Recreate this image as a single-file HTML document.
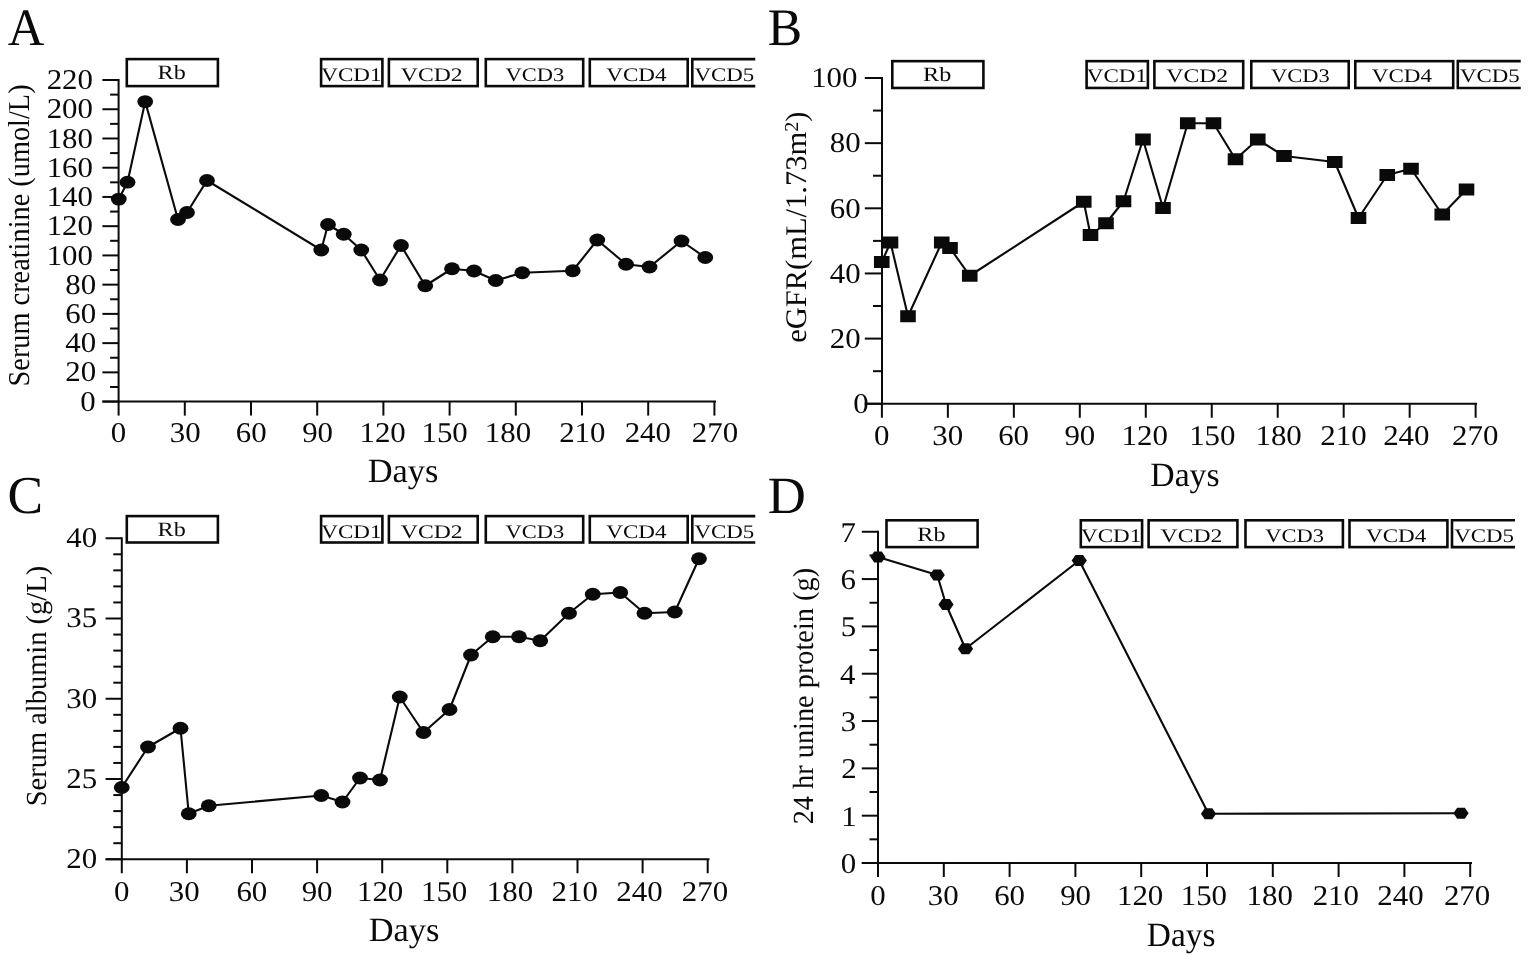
<!DOCTYPE html>
<html lang="en">
<head>
<meta charset="utf-8">
<title>Figure: renal function over time</title>
<style>
html,body{margin:0;padding:0;background:#fff;}
body{width:1535px;height:962px;overflow:hidden;}
svg{display:block;}
svg text{font-family:"Liberation Serif","DejaVu Serif",serif;fill:#0a0a0a;text-rendering:geometricPrecision;}
svg .s{stroke:#0a0a0a;fill:none;}
svg .m{fill:#0a0a0a;stroke:none;}
</style>
</head>
<body>
<svg width="1535" height="962" viewBox="0 0 1535 962">
<rect x="0" y="0" width="1535" height="962" fill="#ffffff"/>
<g id="panelA">
<text transform="translate(7.8 44.5) scale(0.96 1)" font-size="52.73">A</text>
<line class="s" x1="118.6" y1="79" x2="118.6" y2="402.6" stroke-width="2"/>
<line class="s" x1="102.4" y1="401.6" x2="118.6" y2="401.6" stroke-width="2"/>
<line class="s" x1="102.4" y1="372.36" x2="118.6" y2="372.36" stroke-width="2"/>
<line class="s" x1="102.4" y1="343.13" x2="118.6" y2="343.13" stroke-width="2"/>
<line class="s" x1="102.4" y1="313.89" x2="118.6" y2="313.89" stroke-width="2"/>
<line class="s" x1="102.4" y1="284.66" x2="118.6" y2="284.66" stroke-width="2"/>
<line class="s" x1="102.4" y1="255.42" x2="118.6" y2="255.42" stroke-width="2"/>
<line class="s" x1="102.4" y1="226.18" x2="118.6" y2="226.18" stroke-width="2"/>
<line class="s" x1="102.4" y1="196.95" x2="118.6" y2="196.95" stroke-width="2"/>
<line class="s" x1="102.4" y1="167.71" x2="118.6" y2="167.71" stroke-width="2"/>
<line class="s" x1="102.4" y1="138.48" x2="118.6" y2="138.48" stroke-width="2"/>
<line class="s" x1="102.4" y1="109.24" x2="118.6" y2="109.24" stroke-width="2"/>
<line class="s" x1="102.4" y1="80" x2="118.6" y2="80" stroke-width="2"/>
<line class="s" x1="110.1" y1="386.98" x2="118.6" y2="386.98" stroke-width="2"/>
<line class="s" x1="110.1" y1="357.75" x2="118.6" y2="357.75" stroke-width="2"/>
<line class="s" x1="110.1" y1="328.51" x2="118.6" y2="328.51" stroke-width="2"/>
<line class="s" x1="110.1" y1="299.27" x2="118.6" y2="299.27" stroke-width="2"/>
<line class="s" x1="110.1" y1="270.04" x2="118.6" y2="270.04" stroke-width="2"/>
<line class="s" x1="110.1" y1="240.8" x2="118.6" y2="240.8" stroke-width="2"/>
<line class="s" x1="110.1" y1="211.57" x2="118.6" y2="211.57" stroke-width="2"/>
<line class="s" x1="110.1" y1="182.33" x2="118.6" y2="182.33" stroke-width="2"/>
<line class="s" x1="110.1" y1="153.09" x2="118.6" y2="153.09" stroke-width="2"/>
<line class="s" x1="110.1" y1="123.86" x2="118.6" y2="123.86" stroke-width="2"/>
<line class="s" x1="110.1" y1="94.62" x2="118.6" y2="94.62" stroke-width="2"/>
<line class="s" x1="102.4" y1="401.6" x2="716" y2="401.6" stroke-width="2"/>
<line class="s" x1="118.6" y1="401.6" x2="118.6" y2="415.6" stroke-width="2"/>
<line class="s" x1="184.8" y1="401.6" x2="184.8" y2="415.6" stroke-width="2"/>
<line class="s" x1="251" y1="401.6" x2="251" y2="415.6" stroke-width="2"/>
<line class="s" x1="317.2" y1="401.6" x2="317.2" y2="415.6" stroke-width="2"/>
<line class="s" x1="383.4" y1="401.6" x2="383.4" y2="415.6" stroke-width="2"/>
<line class="s" x1="449.6" y1="401.6" x2="449.6" y2="415.6" stroke-width="2"/>
<line class="s" x1="515.8" y1="401.6" x2="515.8" y2="415.6" stroke-width="2"/>
<line class="s" x1="582" y1="401.6" x2="582" y2="415.6" stroke-width="2"/>
<line class="s" x1="648.2" y1="401.6" x2="648.2" y2="415.6" stroke-width="2"/>
<line class="s" x1="714.4" y1="401.6" x2="714.4" y2="415.6" stroke-width="2"/>
<text transform="translate(80.14 410.7) scale(1.08 1)" font-size="28.6">0</text>
<text transform="translate(65.24 381.46) scale(1.08 1)" font-size="28.6">20</text>
<text transform="translate(65.24 352.23) scale(1.08 1)" font-size="28.6">40</text>
<text transform="translate(65.24 322.99) scale(1.08 1)" font-size="28.6">60</text>
<text transform="translate(65.24 293.76) scale(1.08 1)" font-size="28.6">80</text>
<text transform="translate(46.64 264.52) scale(1.08 1)" font-size="28.6">100</text>
<text transform="translate(46.64 235.28) scale(1.08 1)" font-size="28.6">120</text>
<text transform="translate(46.64 206.05) scale(1.08 1)" font-size="28.6">140</text>
<text transform="translate(46.64 176.81) scale(1.08 1)" font-size="28.6">160</text>
<text transform="translate(46.64 147.58) scale(1.08 1)" font-size="28.6">180</text>
<text transform="translate(46.64 118.34) scale(1.08 1)" font-size="28.6">200</text>
<text transform="translate(46.64 89.1) scale(1.08 1)" font-size="28.6">220</text>
<text transform="translate(110.75 442) scale(1.08 1)" font-size="28.6">0</text>
<text transform="translate(169.84 442) scale(1.08 1)" font-size="28.6">30</text>
<text transform="translate(235.72 442) scale(1.08 1)" font-size="28.6">60</text>
<text transform="translate(302.15 442) scale(1.08 1)" font-size="28.6">90</text>
<text transform="translate(359.47 442) scale(1.08 1)" font-size="28.6">120</text>
<text transform="translate(421.47 442) scale(1.08 1)" font-size="28.6">150</text>
<text transform="translate(484.87 442) scale(1.08 1)" font-size="28.6">180</text>
<text transform="translate(559.17 442) scale(1.08 1)" font-size="28.6">210</text>
<text transform="translate(624.67 442) scale(1.08 1)" font-size="28.6">240</text>
<text transform="translate(691.77 442) scale(1.08 1)" font-size="28.6">270</text>
<g class="ytitle">
<text transform="translate(29 386.44) rotate(-90) scale(0.9349 1)" font-size="30.3">Serum creatinine (umol/L)</text>
</g>
<polyline class="s" stroke-width="2.1" stroke-linejoin="round" points="118.75,199.1 127.5,182.2 145.2,101.6 178,219.5 187,212.5 207,180.5 321.25,250 328,224.5 343.75,234.25 361.25,250 380,280 401,245.5 425.25,285.75 452,268.75 474,271 495.75,280.5 522.25,272.75 572.75,270.75 597.25,240 626,264.25 649.5,267 681.5,241 705.25,257.5"/>
<ellipse cx="118.75" cy="199.1" rx="7.9" ry="6.4" class="m"/>
<ellipse cx="127.5" cy="182.2" rx="7.9" ry="6.4" class="m"/>
<ellipse cx="145.2" cy="101.6" rx="7.9" ry="6.4" class="m"/>
<ellipse cx="178" cy="219.5" rx="7.9" ry="6.4" class="m"/>
<ellipse cx="187" cy="212.5" rx="7.9" ry="6.4" class="m"/>
<ellipse cx="207" cy="180.5" rx="7.9" ry="6.4" class="m"/>
<ellipse cx="321.25" cy="250" rx="7.9" ry="6.4" class="m"/>
<ellipse cx="328" cy="224.5" rx="7.9" ry="6.4" class="m"/>
<ellipse cx="343.75" cy="234.25" rx="7.9" ry="6.4" class="m"/>
<ellipse cx="361.25" cy="250" rx="7.9" ry="6.4" class="m"/>
<ellipse cx="380" cy="280" rx="7.9" ry="6.4" class="m"/>
<ellipse cx="401" cy="245.5" rx="7.9" ry="6.4" class="m"/>
<ellipse cx="425.25" cy="285.75" rx="7.9" ry="6.4" class="m"/>
<ellipse cx="452" cy="268.75" rx="7.9" ry="6.4" class="m"/>
<ellipse cx="474" cy="271" rx="7.9" ry="6.4" class="m"/>
<ellipse cx="495.75" cy="280.5" rx="7.9" ry="6.4" class="m"/>
<ellipse cx="522.25" cy="272.75" rx="7.9" ry="6.4" class="m"/>
<ellipse cx="572.75" cy="270.75" rx="7.9" ry="6.4" class="m"/>
<ellipse cx="597.25" cy="240" rx="7.9" ry="6.4" class="m"/>
<ellipse cx="626" cy="264.25" rx="7.9" ry="6.4" class="m"/>
<ellipse cx="649.5" cy="267" rx="7.9" ry="6.4" class="m"/>
<ellipse cx="681.5" cy="241" rx="7.9" ry="6.4" class="m"/>
<ellipse cx="705.25" cy="257.5" rx="7.9" ry="6.4" class="m"/>
<rect class="s" x="126.8" y="59.1" width="91.1" height="27" stroke-width="2.6"/>
<text transform="translate(157.58 79.3) scale(1.19 1)" font-size="20.3">Rb</text>
<rect class="s" x="321.1" y="59.1" width="61.3" height="27" stroke-width="2.6"/>
<text transform="translate(321.27 81.2) scale(1.2 1)" font-size="19.24">VCD1</text>
<rect class="s" x="388.9" y="59.1" width="88.8" height="27" stroke-width="2.6"/>
<text transform="translate(400.86 81.2) scale(1.23 1)" font-size="19.24">VCD2</text>
<rect class="s" x="485.8" y="59.1" width="97.4" height="27" stroke-width="2.6"/>
<text transform="translate(505.52 81.2) scale(1.17 1)" font-size="19.24">VCD3</text>
<rect class="s" x="589.8" y="59.1" width="97.9" height="27" stroke-width="2.6"/>
<text transform="translate(606.27 81.2) scale(1.2 1)" font-size="19.24">VCD4</text>
<path class="s" d="M755.25 59.1H692.3V86.1H755.25" stroke-width="2.6"/>
<text transform="translate(694.52 81.2) scale(1.19 1)" font-size="19.24">VCD5</text>
<text transform="translate(367.77 482.2) scale(1.01 1)" font-size="34.05">Days</text>
</g>
<g id="panelB">
<text transform="translate(767.75 44.5) scale(0.98 1)" font-size="52.67">B</text>
<line class="s" x1="882" y1="77" x2="882" y2="404.75" stroke-width="2"/>
<line class="s" x1="864.8" y1="403.75" x2="882" y2="403.75" stroke-width="2"/>
<line class="s" x1="864.8" y1="338.6" x2="882" y2="338.6" stroke-width="2"/>
<line class="s" x1="864.8" y1="273.45" x2="882" y2="273.45" stroke-width="2"/>
<line class="s" x1="864.8" y1="208.3" x2="882" y2="208.3" stroke-width="2"/>
<line class="s" x1="864.8" y1="143.15" x2="882" y2="143.15" stroke-width="2"/>
<line class="s" x1="864.8" y1="78" x2="882" y2="78" stroke-width="2"/>
<line class="s" x1="873" y1="371.18" x2="882" y2="371.18" stroke-width="2"/>
<line class="s" x1="873" y1="306.02" x2="882" y2="306.02" stroke-width="2"/>
<line class="s" x1="873" y1="240.88" x2="882" y2="240.88" stroke-width="2"/>
<line class="s" x1="873" y1="175.72" x2="882" y2="175.72" stroke-width="2"/>
<line class="s" x1="873" y1="110.57" x2="882" y2="110.57" stroke-width="2"/>
<line class="s" x1="864.8" y1="403.75" x2="1477" y2="403.75" stroke-width="2"/>
<line class="s" x1="881.9" y1="403.75" x2="881.9" y2="417.75" stroke-width="2"/>
<line class="s" x1="947.87" y1="403.75" x2="947.87" y2="417.75" stroke-width="2"/>
<line class="s" x1="1013.84" y1="403.75" x2="1013.84" y2="417.75" stroke-width="2"/>
<line class="s" x1="1079.81" y1="403.75" x2="1079.81" y2="417.75" stroke-width="2"/>
<line class="s" x1="1145.78" y1="403.75" x2="1145.78" y2="417.75" stroke-width="2"/>
<line class="s" x1="1211.75" y1="403.75" x2="1211.75" y2="417.75" stroke-width="2"/>
<line class="s" x1="1277.72" y1="403.75" x2="1277.72" y2="417.75" stroke-width="2"/>
<line class="s" x1="1343.69" y1="403.75" x2="1343.69" y2="417.75" stroke-width="2"/>
<line class="s" x1="1409.66" y1="403.75" x2="1409.66" y2="417.75" stroke-width="2"/>
<line class="s" x1="1475.63" y1="403.75" x2="1475.63" y2="417.75" stroke-width="2"/>
<text transform="translate(853.34 413.05) scale(1.08 1)" font-size="28.6">0</text>
<text transform="translate(829.74 347.9) scale(1.08 1)" font-size="28.6">20</text>
<text transform="translate(829.74 282.75) scale(1.08 1)" font-size="28.6">40</text>
<text transform="translate(829.74 217.6) scale(1.08 1)" font-size="28.6">60</text>
<text transform="translate(829.74 152.45) scale(1.08 1)" font-size="28.6">80</text>
<text transform="translate(811.14 87.3) scale(1.08 1)" font-size="28.6">100</text>
<text transform="translate(874 444.6) scale(1.08 1)" font-size="28.6">0</text>
<text transform="translate(932.34 444.6) scale(1.08 1)" font-size="28.6">30</text>
<text transform="translate(998.17 444.6) scale(1.08 1)" font-size="28.6">60</text>
<text transform="translate(1064.4 444.6) scale(1.08 1)" font-size="28.6">90</text>
<text transform="translate(1121.57 444.6) scale(1.08 1)" font-size="28.6">120</text>
<text transform="translate(1189.17 444.6) scale(1.08 1)" font-size="28.6">150</text>
<text transform="translate(1255.47 444.6) scale(1.08 1)" font-size="28.6">180</text>
<text transform="translate(1320.27 444.6) scale(1.08 1)" font-size="28.6">210</text>
<text transform="translate(1383.17 444.6) scale(1.08 1)" font-size="28.6">240</text>
<text transform="translate(1452.07 444.6) scale(1.08 1)" font-size="28.6">270</text>
<polyline class="s" stroke-width="2.1" stroke-linejoin="round" points="881.75,262 890.5,242.5 908,316.25 941.75,242.5 950,248 969.75,275.75 1083.75,201.75 1090.5,235 1106,223.25 1123.5,201.25 1143,139.5 1163,208 1187.75,123.25 1213.5,123.25 1235.5,159.25 1257.75,139.5 1284,156 1334.75,162 1358.5,218 1387.25,175 1411,168.75 1442.25,214.5 1466.5,189.5"/>
<rect x="873.95" y="256" width="15.6" height="12" class="m"/>
<rect x="882.7" y="236.5" width="15.6" height="12" class="m"/>
<rect x="900.2" y="310.25" width="15.6" height="12" class="m"/>
<rect x="933.95" y="236.5" width="15.6" height="12" class="m"/>
<rect x="942.2" y="242" width="15.6" height="12" class="m"/>
<rect x="961.95" y="269.75" width="15.6" height="12" class="m"/>
<rect x="1075.95" y="195.75" width="15.6" height="12" class="m"/>
<rect x="1082.7" y="229" width="15.6" height="12" class="m"/>
<rect x="1098.2" y="217.25" width="15.6" height="12" class="m"/>
<rect x="1115.7" y="195.25" width="15.6" height="12" class="m"/>
<rect x="1135.2" y="133.5" width="15.6" height="12" class="m"/>
<rect x="1155.2" y="202" width="15.6" height="12" class="m"/>
<rect x="1179.95" y="117.25" width="15.6" height="12" class="m"/>
<rect x="1205.7" y="117.25" width="15.6" height="12" class="m"/>
<rect x="1227.7" y="153.25" width="15.6" height="12" class="m"/>
<rect x="1249.95" y="133.5" width="15.6" height="12" class="m"/>
<rect x="1276.2" y="150" width="15.6" height="12" class="m"/>
<rect x="1326.95" y="156" width="15.6" height="12" class="m"/>
<rect x="1350.7" y="212" width="15.6" height="12" class="m"/>
<rect x="1379.45" y="169" width="15.6" height="12" class="m"/>
<rect x="1403.2" y="162.75" width="15.6" height="12" class="m"/>
<rect x="1434.45" y="208.5" width="15.6" height="12" class="m"/>
<rect x="1458.7" y="183.5" width="15.6" height="12" class="m"/>
<rect class="s" x="892.3" y="61.15" width="91.1" height="26.8" stroke-width="2.6"/>
<text transform="translate(923.08 80.5) scale(1.19 1)" font-size="20.3">Rb</text>
<rect class="s" x="1086.6" y="61.15" width="61.3" height="26.8" stroke-width="2.6"/>
<text transform="translate(1086.77 82.4) scale(1.2 1)" font-size="19.24">VCD1</text>
<rect class="s" x="1154.4" y="61.15" width="88.8" height="26.8" stroke-width="2.6"/>
<text transform="translate(1166.36 82.4) scale(1.23 1)" font-size="19.24">VCD2</text>
<rect class="s" x="1251.3" y="61.15" width="97.4" height="26.8" stroke-width="2.6"/>
<text transform="translate(1271.02 82.4) scale(1.17 1)" font-size="19.24">VCD3</text>
<rect class="s" x="1355.3" y="61.15" width="97.9" height="26.8" stroke-width="2.6"/>
<text transform="translate(1371.77 82.4) scale(1.2 1)" font-size="19.24">VCD4</text>
<path class="s" d="M1520.75 61.15H1457.8V87.95H1520.75" stroke-width="2.6"/>
<text transform="translate(1460.02 82.4) scale(1.19 1)" font-size="19.24">VCD5</text>
<text transform="translate(1150.29 486) scale(0.99 1)" font-size="34.05">Days</text>
<text transform="translate(805.7 342.82) rotate(-90) scale(1 0.98)" font-size="30.53">eGFR(mL/1.73m<tspan font-size="20.15" dy="-7.94">2</tspan><tspan dy="7.94">)</tspan></text>
</g>
<g id="panelC">
<text transform="translate(7.46 512.9) scale(1 1)" font-size="53.33">C</text>
<line class="s" x1="121.8" y1="537.25" x2="121.8" y2="860.25" stroke-width="2"/>
<line class="s" x1="105.6" y1="859.25" x2="121.8" y2="859.25" stroke-width="2"/>
<line class="s" x1="105.6" y1="779" x2="121.8" y2="779" stroke-width="2"/>
<line class="s" x1="105.6" y1="698.75" x2="121.8" y2="698.75" stroke-width="2"/>
<line class="s" x1="105.6" y1="618.5" x2="121.8" y2="618.5" stroke-width="2"/>
<line class="s" x1="105.6" y1="538.25" x2="121.8" y2="538.25" stroke-width="2"/>
<line class="s" x1="113.3" y1="843.2" x2="121.8" y2="843.2" stroke-width="2"/>
<line class="s" x1="113.3" y1="827.15" x2="121.8" y2="827.15" stroke-width="2"/>
<line class="s" x1="113.3" y1="811.1" x2="121.8" y2="811.1" stroke-width="2"/>
<line class="s" x1="113.3" y1="795.05" x2="121.8" y2="795.05" stroke-width="2"/>
<line class="s" x1="113.3" y1="762.95" x2="121.8" y2="762.95" stroke-width="2"/>
<line class="s" x1="113.3" y1="746.9" x2="121.8" y2="746.9" stroke-width="2"/>
<line class="s" x1="113.3" y1="730.85" x2="121.8" y2="730.85" stroke-width="2"/>
<line class="s" x1="113.3" y1="714.8" x2="121.8" y2="714.8" stroke-width="2"/>
<line class="s" x1="113.3" y1="682.7" x2="121.8" y2="682.7" stroke-width="2"/>
<line class="s" x1="113.3" y1="666.65" x2="121.8" y2="666.65" stroke-width="2"/>
<line class="s" x1="113.3" y1="650.6" x2="121.8" y2="650.6" stroke-width="2"/>
<line class="s" x1="113.3" y1="634.55" x2="121.8" y2="634.55" stroke-width="2"/>
<line class="s" x1="113.3" y1="602.45" x2="121.8" y2="602.45" stroke-width="2"/>
<line class="s" x1="113.3" y1="586.4" x2="121.8" y2="586.4" stroke-width="2"/>
<line class="s" x1="113.3" y1="570.35" x2="121.8" y2="570.35" stroke-width="2"/>
<line class="s" x1="113.3" y1="554.3" x2="121.8" y2="554.3" stroke-width="2"/>
<line class="s" x1="105.6" y1="859.25" x2="709.5" y2="859.25" stroke-width="2"/>
<line class="s" x1="121.8" y1="859.25" x2="121.8" y2="873.25" stroke-width="2"/>
<line class="s" x1="186.9" y1="859.25" x2="186.9" y2="873.25" stroke-width="2"/>
<line class="s" x1="252" y1="859.25" x2="252" y2="873.25" stroke-width="2"/>
<line class="s" x1="317.1" y1="859.25" x2="317.1" y2="873.25" stroke-width="2"/>
<line class="s" x1="382.2" y1="859.25" x2="382.2" y2="873.25" stroke-width="2"/>
<line class="s" x1="447.3" y1="859.25" x2="447.3" y2="873.25" stroke-width="2"/>
<line class="s" x1="512.4" y1="859.25" x2="512.4" y2="873.25" stroke-width="2"/>
<line class="s" x1="577.5" y1="859.25" x2="577.5" y2="873.25" stroke-width="2"/>
<line class="s" x1="642.6" y1="859.25" x2="642.6" y2="873.25" stroke-width="2"/>
<line class="s" x1="707.7" y1="859.25" x2="707.7" y2="873.25" stroke-width="2"/>
<text transform="translate(66.24 868.05) scale(1.08 1)" font-size="28.6">20</text>
<text transform="translate(66.24 787.8) scale(1.08 1)" font-size="28.6">25</text>
<text transform="translate(66.24 707.55) scale(1.08 1)" font-size="28.6">30</text>
<text transform="translate(66.24 627.3) scale(1.08 1)" font-size="28.6">35</text>
<text transform="translate(66.24 547.05) scale(1.08 1)" font-size="28.6">40</text>
<text transform="translate(114 900.5) scale(1.08 1)" font-size="28.6">0</text>
<text transform="translate(168.84 900.5) scale(1.08 1)" font-size="28.6">30</text>
<text transform="translate(236.42 900.5) scale(1.08 1)" font-size="28.6">60</text>
<text transform="translate(301.65 900.5) scale(1.08 1)" font-size="28.6">90</text>
<text transform="translate(356.97 900.5) scale(1.08 1)" font-size="28.6">120</text>
<text transform="translate(420.97 900.5) scale(1.08 1)" font-size="28.6">150</text>
<text transform="translate(486.87 900.5) scale(1.08 1)" font-size="28.6">180</text>
<text transform="translate(551.57 900.5) scale(1.08 1)" font-size="28.6">210</text>
<text transform="translate(616.27 900.5) scale(1.08 1)" font-size="28.6">240</text>
<text transform="translate(681.77 900.5) scale(1.08 1)" font-size="28.6">270</text>
<polyline class="s" stroke-width="2.1" stroke-linejoin="round" points="121.75,787.5 148,747 180.5,728.25 188.75,813.75 208.75,805.75 321.25,795.5 342.5,802 360,778 380,780 399.75,697 423.5,732.5 449.5,709.5 471,655 492.75,636.75 519,636.75 540.25,640.75 569,613.25 592.75,594.25 620.25,592.5 644.5,613.25 674.75,612 699,558.75"/>
<ellipse cx="121.75" cy="787.5" rx="7.9" ry="6.4" class="m"/>
<ellipse cx="148" cy="747" rx="7.9" ry="6.4" class="m"/>
<ellipse cx="180.5" cy="728.25" rx="7.9" ry="6.4" class="m"/>
<ellipse cx="188.75" cy="813.75" rx="7.9" ry="6.4" class="m"/>
<ellipse cx="208.75" cy="805.75" rx="7.9" ry="6.4" class="m"/>
<ellipse cx="321.25" cy="795.5" rx="7.9" ry="6.4" class="m"/>
<ellipse cx="342.5" cy="802" rx="7.9" ry="6.4" class="m"/>
<ellipse cx="360" cy="778" rx="7.9" ry="6.4" class="m"/>
<ellipse cx="380" cy="780" rx="7.9" ry="6.4" class="m"/>
<ellipse cx="399.75" cy="697" rx="7.9" ry="6.4" class="m"/>
<ellipse cx="423.5" cy="732.5" rx="7.9" ry="6.4" class="m"/>
<ellipse cx="449.5" cy="709.5" rx="7.9" ry="6.4" class="m"/>
<ellipse cx="471" cy="655" rx="7.9" ry="6.4" class="m"/>
<ellipse cx="492.75" cy="636.75" rx="7.9" ry="6.4" class="m"/>
<ellipse cx="519" cy="636.75" rx="7.9" ry="6.4" class="m"/>
<ellipse cx="540.25" cy="640.75" rx="7.9" ry="6.4" class="m"/>
<ellipse cx="569" cy="613.25" rx="7.9" ry="6.4" class="m"/>
<ellipse cx="592.75" cy="594.25" rx="7.9" ry="6.4" class="m"/>
<ellipse cx="620.25" cy="592.5" rx="7.9" ry="6.4" class="m"/>
<ellipse cx="644.5" cy="613.25" rx="7.9" ry="6.4" class="m"/>
<ellipse cx="674.75" cy="612" rx="7.9" ry="6.4" class="m"/>
<ellipse cx="699" cy="558.75" rx="7.9" ry="6.4" class="m"/>
<rect class="s" x="126.8" y="516.1" width="91.1" height="26.4" stroke-width="2.6"/>
<text transform="translate(157.58 536.2) scale(1.19 1)" font-size="20.3">Rb</text>
<rect class="s" x="321.1" y="516.1" width="61.3" height="26.4" stroke-width="2.6"/>
<text transform="translate(321.27 538.1) scale(1.2 1)" font-size="19.24">VCD1</text>
<rect class="s" x="388.9" y="516.1" width="88.8" height="26.4" stroke-width="2.6"/>
<text transform="translate(400.86 538.1) scale(1.23 1)" font-size="19.24">VCD2</text>
<rect class="s" x="485.8" y="516.1" width="97.4" height="26.4" stroke-width="2.6"/>
<text transform="translate(505.52 538.1) scale(1.17 1)" font-size="19.24">VCD3</text>
<rect class="s" x="589.8" y="516.1" width="97.9" height="26.4" stroke-width="2.6"/>
<text transform="translate(606.27 538.1) scale(1.2 1)" font-size="19.24">VCD4</text>
<path class="s" d="M755.25 516.1H692.3V542.5H755.25" stroke-width="2.6"/>
<text transform="translate(694.52 538.1) scale(1.19 1)" font-size="19.24">VCD5</text>
<text transform="translate(368.77 941.3) scale(1.01 1)" font-size="34.05">Days</text>
<text transform="translate(46.1 806.25) rotate(-90) scale(1 1.02)" font-size="28.48">Serum albumin (g/L)</text>
</g>
<g id="panelD">
<text transform="translate(767.72 512.5) scale(1.01 1)" font-size="52.21">D</text>
<line class="s" x1="878" y1="530.76" x2="878" y2="864" stroke-width="2"/>
<line class="s" x1="861.8" y1="863" x2="878" y2="863" stroke-width="2"/>
<line class="s" x1="861.8" y1="815.68" x2="878" y2="815.68" stroke-width="2"/>
<line class="s" x1="861.8" y1="768.36" x2="878" y2="768.36" stroke-width="2"/>
<line class="s" x1="861.8" y1="721.04" x2="878" y2="721.04" stroke-width="2"/>
<line class="s" x1="861.8" y1="673.72" x2="878" y2="673.72" stroke-width="2"/>
<line class="s" x1="861.8" y1="626.4" x2="878" y2="626.4" stroke-width="2"/>
<line class="s" x1="861.8" y1="579.08" x2="878" y2="579.08" stroke-width="2"/>
<line class="s" x1="861.8" y1="531.76" x2="878" y2="531.76" stroke-width="2"/>
<line class="s" x1="869.5" y1="839.34" x2="878" y2="839.34" stroke-width="2"/>
<line class="s" x1="869.5" y1="792.02" x2="878" y2="792.02" stroke-width="2"/>
<line class="s" x1="869.5" y1="744.7" x2="878" y2="744.7" stroke-width="2"/>
<line class="s" x1="869.5" y1="697.38" x2="878" y2="697.38" stroke-width="2"/>
<line class="s" x1="869.5" y1="650.06" x2="878" y2="650.06" stroke-width="2"/>
<line class="s" x1="869.5" y1="602.74" x2="878" y2="602.74" stroke-width="2"/>
<line class="s" x1="869.5" y1="555.42" x2="878" y2="555.42" stroke-width="2"/>
<line class="s" x1="861.8" y1="863" x2="1472" y2="863" stroke-width="2"/>
<line class="s" x1="878" y1="863" x2="878" y2="877" stroke-width="2"/>
<line class="s" x1="943.8" y1="863" x2="943.8" y2="877" stroke-width="2"/>
<line class="s" x1="1009.6" y1="863" x2="1009.6" y2="877" stroke-width="2"/>
<line class="s" x1="1075.4" y1="863" x2="1075.4" y2="877" stroke-width="2"/>
<line class="s" x1="1141.2" y1="863" x2="1141.2" y2="877" stroke-width="2"/>
<line class="s" x1="1207" y1="863" x2="1207" y2="877" stroke-width="2"/>
<line class="s" x1="1272.8" y1="863" x2="1272.8" y2="877" stroke-width="2"/>
<line class="s" x1="1338.6" y1="863" x2="1338.6" y2="877" stroke-width="2"/>
<line class="s" x1="1404.4" y1="863" x2="1404.4" y2="877" stroke-width="2"/>
<line class="s" x1="1470.2" y1="863" x2="1470.2" y2="877" stroke-width="2"/>
<text transform="translate(840.74 872.9) scale(1.08 1)" font-size="28.6">0</text>
<text transform="translate(841.36 825.58) scale(1.08 1)" font-size="28.6">1</text>
<text transform="translate(841.2 778.26) scale(1.08 1)" font-size="28.6">2</text>
<text transform="translate(840.74 730.94) scale(1.08 1)" font-size="28.6">3</text>
<text transform="translate(839.96 683.62) scale(1.08 1)" font-size="28.6">4</text>
<text transform="translate(840.74 636.3) scale(1.08 1)" font-size="28.6">5</text>
<text transform="translate(840.43 588.98) scale(1.08 1)" font-size="28.6">6</text>
<text transform="translate(840.43 541.66) scale(1.08 1)" font-size="28.6">7</text>
<text transform="translate(870.25 904.5) scale(1.08 1)" font-size="28.6">0</text>
<text transform="translate(927.84 904.5) scale(1.08 1)" font-size="28.6">30</text>
<text transform="translate(994.17 904.5) scale(1.08 1)" font-size="28.6">60</text>
<text transform="translate(1060.15 904.5) scale(1.08 1)" font-size="28.6">90</text>
<text transform="translate(1116.97 904.5) scale(1.08 1)" font-size="28.6">120</text>
<text transform="translate(1180.72 904.5) scale(1.08 1)" font-size="28.6">150</text>
<text transform="translate(1246.57 904.5) scale(1.08 1)" font-size="28.6">180</text>
<text transform="translate(1312.67 904.5) scale(1.08 1)" font-size="28.6">210</text>
<text transform="translate(1377.27 904.5) scale(1.08 1)" font-size="28.6">240</text>
<text transform="translate(1443.92 904.5) scale(1.08 1)" font-size="28.6">270</text>
<polyline class="s" stroke-width="2.1" stroke-linejoin="round" points="878,557 937.25,575 946,604.5 965.5,648.75 1079.25,560.5 1208.5,813.75 1461,813.25"/>
<polygon class="m" points="870.4,557 874.2,551.4 881.8,551.4 885.6,557 881.8,562.6 874.2,562.6"/>
<polygon class="m" points="929.65,575 933.45,569.4 941.05,569.4 944.85,575 941.05,580.6 933.45,580.6"/>
<polygon class="m" points="938.4,604.5 942.2,598.9 949.8,598.9 953.6,604.5 949.8,610.1 942.2,610.1"/>
<polygon class="m" points="957.9,648.75 961.7,643.15 969.3,643.15 973.1,648.75 969.3,654.35 961.7,654.35"/>
<polygon class="m" points="1071.65,560.5 1075.45,554.9 1083.05,554.9 1086.85,560.5 1083.05,566.1 1075.45,566.1"/>
<polygon class="m" points="1200.9,813.75 1204.7,808.15 1212.3,808.15 1216.1,813.75 1212.3,819.35 1204.7,819.35"/>
<polygon class="m" points="1453.4,813.25 1457.2,807.65 1464.8,807.65 1468.6,813.25 1464.8,818.85 1457.2,818.85"/>
<rect class="s" x="886.5" y="520.3" width="91.1" height="26.8" stroke-width="2.6"/>
<text transform="translate(917.28 540.5) scale(1.19 1)" font-size="20.3">Rb</text>
<rect class="s" x="1080.8" y="520.3" width="61.3" height="26.8" stroke-width="2.6"/>
<text transform="translate(1080.97 542.4) scale(1.2 1)" font-size="19.24">VCD1</text>
<rect class="s" x="1148.6" y="520.3" width="88.8" height="26.8" stroke-width="2.6"/>
<text transform="translate(1160.56 542.4) scale(1.23 1)" font-size="19.24">VCD2</text>
<rect class="s" x="1245.5" y="520.3" width="97.4" height="26.8" stroke-width="2.6"/>
<text transform="translate(1265.22 542.4) scale(1.17 1)" font-size="19.24">VCD3</text>
<rect class="s" x="1349.5" y="520.3" width="97.9" height="26.8" stroke-width="2.6"/>
<text transform="translate(1365.97 542.4) scale(1.2 1)" font-size="19.24">VCD4</text>
<path class="s" d="M1514.95 520.3H1452V547.1H1514.95" stroke-width="2.6"/>
<text transform="translate(1454.22 542.4) scale(1.19 1)" font-size="19.24">VCD5</text>
<text transform="translate(1146.8 946.3) scale(0.98 1)" font-size="34.05">Days</text>
<text transform="translate(813.4 824.37) rotate(-90) scale(1 1.03)" font-size="28.33">24 hr unine protein (g)</text>
</g>
</svg>
</body>
</html>
